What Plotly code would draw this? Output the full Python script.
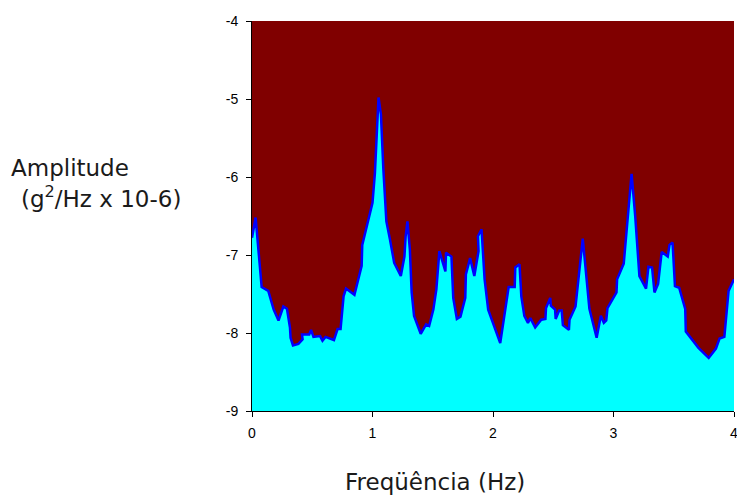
import plotly.graph_objects as go

freq = [0.0, 0.03, 0.08, 0.135, 0.18, 0.22, 0.26, 0.29, 0.315, 0.32, 0.34, 0.385, 0.42, 0.415, 0.475, 0.49, 0.51,
        0.565, 0.585, 0.61, 0.68, 0.71, 0.735, 0.76, 0.78, 0.85, 0.91, 0.915, 1.0, 1.02, 1.05, 1.07, 1.09,
        1.115, 1.145, 1.18, 1.235, 1.265, 1.275, 1.29, 1.31, 1.325, 1.345, 1.40, 1.445, 1.47, 1.505, 1.53,
        1.555, 1.605, 1.61, 1.655, 1.67, 1.70, 1.73, 1.77, 1.775, 1.81, 1.845, 1.88, 1.875, 1.905, 1.93,
        1.96, 2.06, 2.13, 2.18, 2.185, 2.22, 2.235, 2.26, 2.29, 2.31, 2.35, 2.40, 2.435, 2.44, 2.475, 2.48,
        2.515, 2.52, 2.55, 2.57, 2.58, 2.63, 2.635, 2.685, 2.745, 2.80, 2.86, 2.895, 2.92, 2.94, 2.95,
        3.025, 3.03, 3.085, 3.12, 3.15, 3.18, 3.215, 3.27, 3.29, 3.32, 3.34, 3.37, 3.40, 3.45, 3.465,
        3.49, 3.51, 3.545, 3.595, 3.6, 3.705, 3.79, 3.85, 3.88, 3.92, 3.955, 4.0]
amplitude = [-6.78, -6.52, -7.41, -7.46, -7.70, -7.84, -7.66, -7.69, -7.93, -8.06, -8.16, -8.14, -8.08, -8.02,
             -8.02, -7.96, -8.05, -8.04, -8.10, -8.05, -8.09, -7.95, -7.95, -7.53, -7.43, -7.51, -7.14, -6.87,
             -6.33, -5.95, -4.98, -5.20, -5.90, -6.57, -6.80, -7.10, -7.27, -7.02, -6.76, -6.57, -6.93, -7.48,
             -7.78, -8.01, -7.89, -7.91, -7.70, -7.44, -6.95, -7.21, -6.97, -7.02, -7.55, -7.82, -7.79, -7.55,
             -7.25, -7.04, -7.27, -6.95, -6.76, -6.67, -7.31, -7.70, -8.13, -7.41, -7.41, -7.16, -7.12, -7.53,
             -7.78, -7.87, -7.81, -7.93, -7.83, -7.82, -7.68, -7.55, -7.65, -7.70, -7.82, -7.71, -7.71, -7.90,
             -7.96, -7.83, -7.66, -6.79, -7.69, -8.06, -7.78, -7.87, -7.84, -7.68, -7.48, -7.31, -7.11, -6.50,
             -5.96, -6.50, -7.27, -7.43, -7.15, -7.16, -7.48, -7.37, -6.96, -7.02, -6.87, -6.84, -7.40, -7.42,
             -7.69, -7.98, -8.19, -8.32, -8.20, -8.07, -8.05, -7.46, -7.31]

y_min, y_max = -9, -4
baseline = [y_min] * len(freq)
x_ticks = [0, 1, 2, 3, 4]
x_labels = ["0", "1", "2", "3", "4"]
y_ticks = [-4, -5, -6, -7, -8, -9]
y_labels = ["-4", "-5", "-6", "-7", "-8", "-9"]

fig = go.Figure()
fig.add_trace(go.Scatter(x=freq, y=baseline, mode="lines", line=dict(width=0, color="#00FFFF"),
                         hoverinfo="skip", showlegend=False))
fig.add_trace(go.Scatter(x=freq, y=amplitude, mode="lines", fill="tonexty", fillcolor="#00FFFF",
                         line=dict(color="#0000FF", width=2.5), showlegend=False))

title_font = dict(family="DejaVu Sans, sans-serif", size=23, color="#1a1a1a")

fig.update_layout(
    width=737, height=496,
    margin=dict(l=252, r=3, t=21, b=85),
    paper_bgcolor="white", plot_bgcolor="#800000",
    font=dict(family="Liberation Sans, Arial, sans-serif", size=14, color="black"),
    xaxis=dict(range=[0, 4], tickvals=x_ticks, ticktext=x_labels, ticks="outside", ticklen=5,
               tickcolor="black", showline=True, linecolor="black", linewidth=1, showgrid=False,
               zeroline=False, automargin=False, ticklabeloverflow="allow", ticklabelstandoff=4),
    yaxis=dict(range=[y_min, y_max], tickvals=y_ticks, ticktext=y_labels, ticks="outside", ticklen=5,
               tickcolor="black", showline=True, linecolor="black", linewidth=1, showgrid=False,
               zeroline=False, automargin=False, ticklabeloverflow="allow", ticklabelstandoff=5),
    annotations=[
        dict(text="Amplitude", xref="paper", yref="paper", x=-0.504, y=0.622,
             xanchor="left", yanchor="middle", showarrow=False, font=title_font),
        dict(text="(g<sup>2</sup>/Hz x 10-6)", xref="paper", yref="paper", x=-0.483, y=0.549,
             xanchor="left", yanchor="middle", showarrow=False, font=title_font),
        dict(text="Freqüência (Hz)", xref="paper", yref="paper", x=0.38, y=-0.181,
             xanchor="center", yanchor="middle", showarrow=False, font=title_font),
    ],
)

fig.write_html(
    "out.html",
    config={"displayModeBar": False},
    post_script="document.body.style.margin='0';document.body.style.overflow='hidden';",
)
